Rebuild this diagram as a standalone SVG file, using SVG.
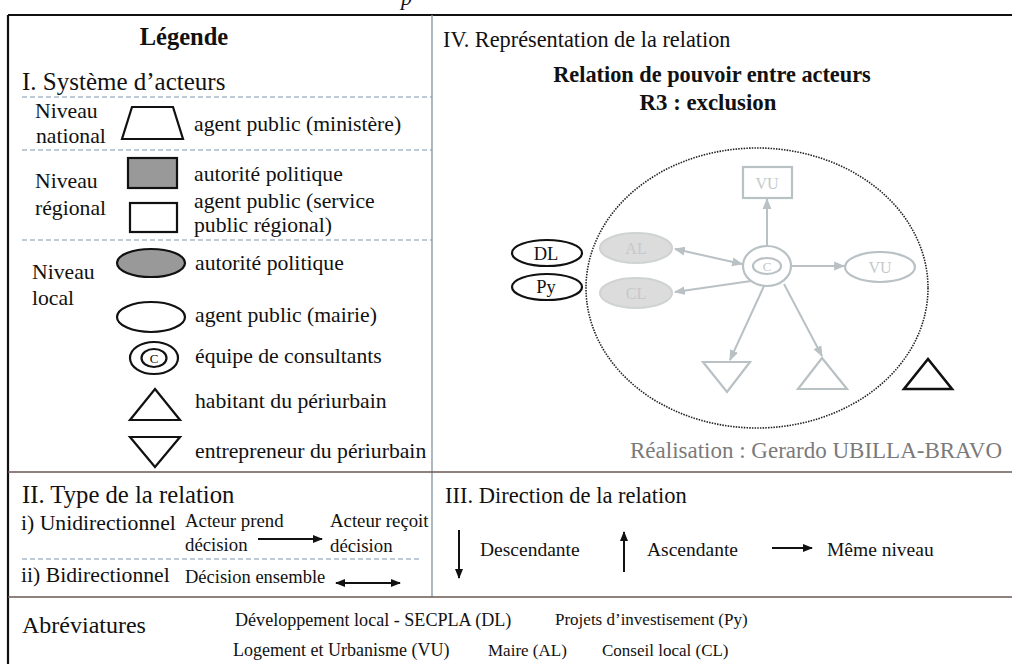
<svg xmlns="http://www.w3.org/2000/svg" width="1012" height="664" viewBox="0 0 1012 664">
<defs>
<style>
text{font-family:"Liberation Serif","Times New Roman",serif;fill:#111}
.L{font-size:21.7px}
.s{font-size:18.8px}
.d{font-size:19.5px}
.a{font-size:17px}
.b{font-weight:bold}
.div{stroke:#6b5a54;stroke-width:1.3;fill:none}
.vdiv{stroke:#7f93a3;stroke-width:1.3;fill:none}
.dash{stroke:#7e98ad;stroke-width:1.2;stroke-dasharray:5,3;fill:none}
.blk{stroke:#111;stroke-width:2.2;fill:#fff}
.g{stroke:#b9c1c4;stroke-width:2.2;fill:#fff}
.gt{fill:#c4c9cb;font-size:16px}
.ar{stroke:#111;stroke-width:2;fill:none}
.ga{stroke:#b9c1c4;stroke-width:2;fill:none}
</style>
<marker id="ah" viewBox="0 0 10 10" refX="9" refY="5" markerWidth="5" markerHeight="5" orient="auto-start-reverse" markerUnits="strokeWidth"><path d="M0,1 L10,5 L0,9 Z" fill="#111"/></marker>
<marker id="gh" viewBox="0 0 10 10" refX="9" refY="5" markerWidth="5.5" markerHeight="5.5" orient="auto-start-reverse" markerUnits="strokeWidth"><path d="M0,1 L10,5 L0,9 Z" fill="#b9c1c4"/></marker>
</defs>
<rect width="1012" height="664" fill="#fff"/>
<text x="401" y="5" style="font-style:italic;font-size:22px">p</text>

<g id="frame">
<path d="M8,15 H1012 M8,15 V664" stroke="#111" stroke-width="2.2" fill="none"/>
<path class="vdiv" d="M432,15 V597"/>
<path class="div" d="M8,472 H1012 M8,597 H1012"/>
</g>

<g id="legend">
<text x="184" y="45" class="b" style="font-size:24.5px" text-anchor="middle">Légende</text>
<text x="22" y="90" style="font-size:25px">I. Système d’acteurs</text>
<path class="dash" d="M22,97 H432 M22,150 H432 M22,240 H432"/>
<text x="35" y="118" class="L">Niveau</text>
<text x="36" y="143" class="L">national</text>
<text x="35" y="188" class="L">Niveau</text>
<text x="35" y="215" class="L">régional</text>
<text x="32" y="279" class="L">Niveau</text>
<text x="32" y="305" class="L">local</text>
<g id="leg-ministere"><polygon class="blk" points="132,107 173,107 183,139 122,139"/><text x="194" y="131" class="L">agent public (ministère)</text></g>
<g id="leg-reg-autorite"><rect class="blk" x="128" y="158" width="49" height="30" style="fill:#999"/><text x="194" y="181" class="L">autorité politique</text></g>
<g id="leg-reg-agent"><rect class="blk" x="130" y="203" width="47" height="29"/><text x="194" y="208" class="L">agent public (service</text><text x="194" y="232" class="L">public régional)</text></g>
<g id="leg-loc-autorite"><ellipse class="blk" cx="151" cy="263" rx="34" ry="14" style="fill:#999"/><text x="195" y="270" class="L">autorité politique</text></g>
<g id="leg-loc-agent"><ellipse class="blk" cx="151" cy="317" rx="34" ry="15"/><text x="195" y="322" class="L">agent public (mairie)</text></g>
<g id="leg-consult"><ellipse class="blk" cx="154" cy="358" rx="24" ry="16"/><ellipse class="blk" cx="154" cy="358" rx="12.5" ry="9"/><text x="154" y="363" text-anchor="middle" style="font-size:13px">C</text><text x="195" y="363" class="L">équipe de consultants</text></g>
<g id="leg-habitant"><polygon class="blk" points="155,389 180,420 130,420"/><text x="195" y="408" class="L">habitant du périurbain</text></g>
<g id="leg-entrepreneur"><polygon class="blk" points="130,437 180,437 155,467"/><text x="195" y="458" class="L">entrepreneur du périurbain</text></g>
</g>

<g id="section-IV">
<text x="443" y="47" style="font-size:22.3px">IV. Représentation de la relation</text>
<text x="712" y="82" class="b" style="font-size:22.3px" text-anchor="middle">Relation de pouvoir entre acteurs</text>
<text x="708" y="110" class="b" style="font-size:22.8px" text-anchor="middle">R3 : exclusion</text>
<ellipse id="perimeter" cx="757" cy="288" rx="171" ry="140" fill="none" stroke="#222" stroke-width="1.6" stroke-dasharray="1.5,1.2"/>
<text x="1002" y="458" text-anchor="end" style="font-size:23px;fill:#7a7a7a">Réalisation : Gerardo UBILLA-BRAVO</text>
</g>

<g id="connectors">
<line class="ga" x1="767" y1="246" x2="767" y2="199" marker-end="url(#gh)"/>
<line class="ga" x1="675" y1="249" x2="742" y2="264" marker-start="url(#gh)" marker-end="url(#gh)"/>
<line class="ga" x1="751" y1="281" x2="675" y2="292" marker-end="url(#gh)"/>
<line class="ga" x1="792" y1="266" x2="844" y2="266" marker-end="url(#gh)"/>
<line class="ga" x1="764" y1="286" x2="730" y2="360" marker-end="url(#gh)"/>
<line class="ga" x1="784" y1="284" x2="822" y2="356" marker-end="url(#gh)"/>
</g>

<g id="node-VU-rect"><rect class="g" x="743" y="167" width="49" height="31"/><text x="767" y="189" text-anchor="middle" class="gt">VU</text></g>
<g id="node-C"><ellipse class="g" cx="767" cy="266" rx="24" ry="20"/><ellipse class="g" cx="767" cy="266" rx="14" ry="8"/><text x="767" y="271" text-anchor="middle" class="gt" style="font-size:13px">C</text></g>
<g id="node-AL"><ellipse class="g" cx="636" cy="248" rx="36" ry="15" style="fill:#dcdcdc;stroke:#d0d3d4"/><text x="636" y="254" text-anchor="middle" class="gt">AL</text></g>
<g id="node-CL"><ellipse class="g" cx="636" cy="293" rx="36" ry="15" style="fill:#dcdcdc;stroke:#d0d3d4"/><text x="636" y="299" text-anchor="middle" class="gt">CL</text></g>
<g id="node-VU-ell"><ellipse class="g" cx="880" cy="267" rx="35" ry="15"/><text x="880" y="273" text-anchor="middle" class="gt">VU</text></g>
<g id="node-entrepreneur"><polygon class="g" points="703,362 750,362 727,392"/></g>
<g id="node-habitant-in"><polygon class="g" points="822,358 847,389 798,389"/></g>
<g id="node-habitant-out"><polygon class="blk" points="928,359 952,389 904,389" style="stroke-width:2.6"/></g>
<g id="node-DL"><ellipse class="blk" cx="547" cy="253" rx="35" ry="13"/><text x="546" y="260" text-anchor="middle" style="font-size:18.5px">DL</text></g>
<g id="node-Py"><ellipse class="blk" cx="547" cy="287" rx="35" ry="13"/><text x="546" y="293" text-anchor="middle" style="font-size:18.5px">Py</text></g>

<g id="section-II">
<text x="22" y="503" style="font-size:24.7px">II. Type de la relation</text>
<text x="21" y="530" class="L">i) Unidirectionnel</text>
<text x="185" y="527" class="s">Acteur prend</text>
<text x="185" y="551" class="s">décision</text>
<line class="ar" x1="258" y1="539" x2="322" y2="539" marker-end="url(#ah)"/>
<text x="330" y="527" class="s">Acteur reçoit</text>
<text x="330" y="552" class="s">décision</text>
<path class="dash" d="M22,559 H422"/>
<text x="21" y="582" class="L">ii) Bidirectionnel</text>
<text x="185" y="583" style="font-size:18.5px">Décision ensemble</text>
<line class="ar" x1="336" y1="583" x2="400" y2="583" marker-start="url(#ah)" marker-end="url(#ah)"/>
</g>

<g id="section-III">
<text x="445" y="503" style="font-size:22.5px">III. Direction de la relation</text>
<line class="ar" x1="459" y1="530" x2="459" y2="578" marker-end="url(#ah)"/>
<text x="480" y="556" class="d">Descendante</text>
<line class="ar" x1="624" y1="572" x2="624" y2="532" marker-end="url(#ah)"/>
<text x="647" y="556" class="d">Ascendante</text>
<line class="ar" x1="772" y1="548" x2="812" y2="548" marker-end="url(#ah)"/>
<text x="827" y="556" class="d">Même niveau</text>
</g>

<g id="abbreviations">
<text x="22" y="633" style="font-size:24px">Abréviatures</text>
<text x="235" y="626" style="font-size:18.1px">Développement local - SECPLA (DL)</text>
<text x="555" y="625" class="a">Projets d’investisement (Py)</text>
<text x="233" y="656" style="font-size:18px">Logement et Urbanisme (VU)</text>
<text x="488" y="656" class="a">Maire (AL)</text>
<text x="602" y="656" class="a">Conseil local (CL)</text>
</g>
</svg>
